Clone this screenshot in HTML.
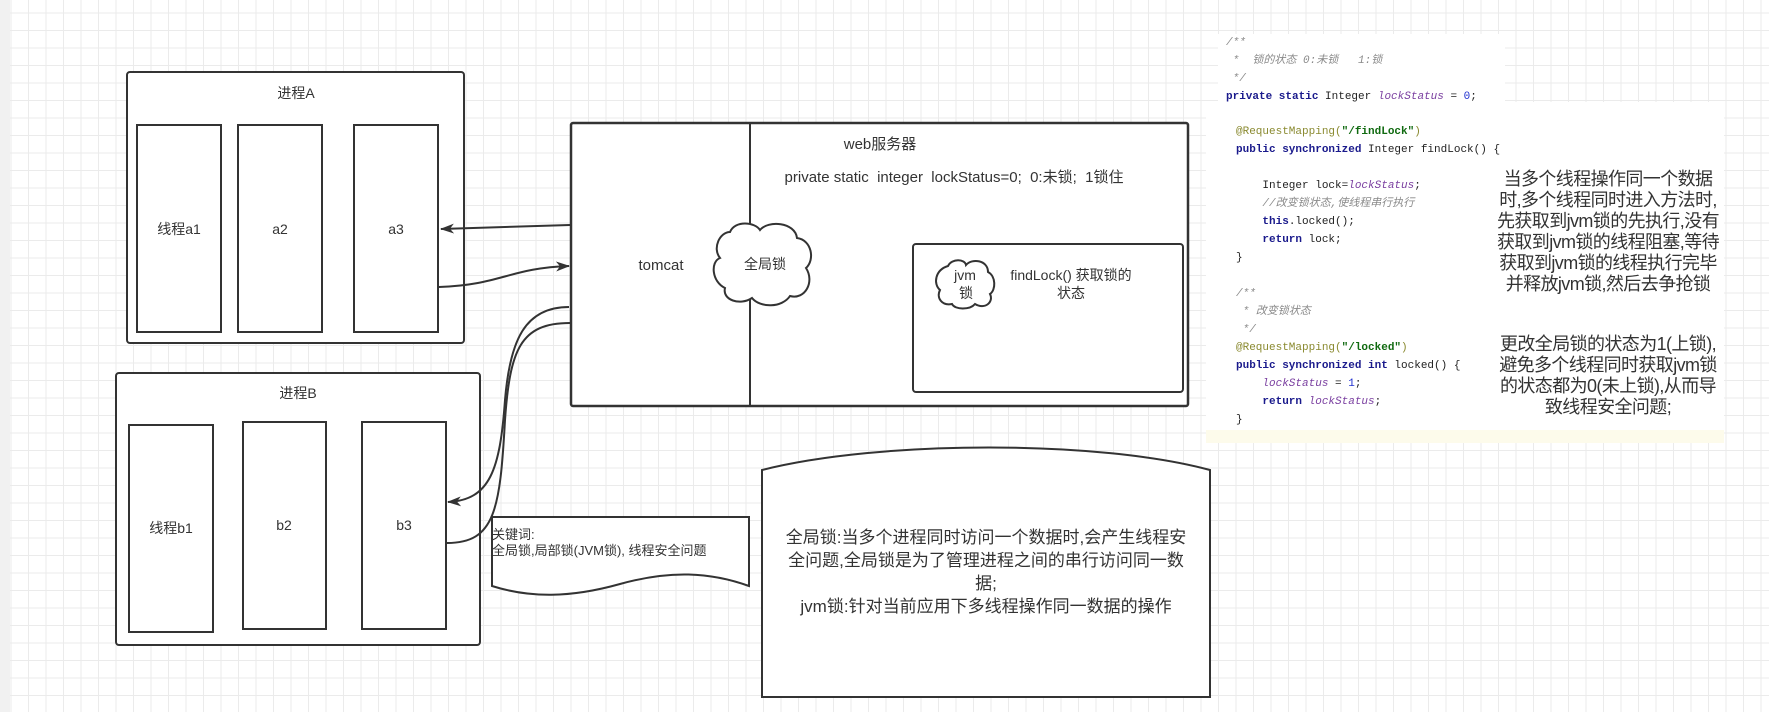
<!DOCTYPE html>
<html><head><meta charset="utf-8"><style>
html,body{margin:0;padding:0;}
body{width:1769px;height:712px;overflow:hidden;position:relative;background:#fff;font-family:"Liberation Sans","Noto Sans CJK SC",sans-serif;}
.grid{position:absolute;left:10px;top:0;width:1759px;height:712px;
background-image:linear-gradient(to right,#ebebeb 1px,transparent 1px),linear-gradient(to bottom,#ebebeb 1px,transparent 1px);
background-size:17.5px 17.5px;background-position:0.5px 12.5px;}
.strip{position:absolute;left:0;top:0;width:10px;height:712px;background:#f1f1f1;}
.code{position:absolute;font-family:"Liberation Mono","Noto Sans CJK SC",monospace;font-size:11px;color:#222;white-space:pre;line-height:18px;}
.kw{color:#1a1a8c;font-weight:bold}
.cm{color:#8a8a8a;font-style:italic}
.an{color:#8a8a30}
.st{color:#106a10;font-weight:bold}
.fld{color:#7a3fa0;font-style:italic}
.num{color:#2030d0}
.note{position:absolute;font-size:18px;color:#333;text-align:center;line-height:21px;width:240px;white-space:nowrap;letter-spacing:-0.6px;}
</style></head><body>
<div class="strip"></div><div class="grid"></div>
<div style="position:absolute;left:1218px;top:34px;width:287px;height:68px;background:#fff"></div>
<div style="position:absolute;left:1206px;top:102px;width:518px;height:341px;background:#fff"></div>
<div style="position:absolute;left:1206px;top:430px;width:518px;height:13px;background:#fdfbeb"></div>
<div class="code" style="left:1226px;top:34px"><span class="cm">/**
 *  锁的状态 0:未锁   1:锁
 */</span>
<span class="kw">private static</span> Integer <span class="fld">lockStatus</span> = <span class="num">0</span>;</div>
<div class="code" style="left:1236px;top:123px"><span class="an">@RequestMapping(</span><span class="st">"/findLock"</span><span class="an">)</span>
<span class="kw">public synchronized</span> Integer findLock() {

    Integer lock=<span class="fld">lockStatus</span>;
    <span class="cm">//改变锁状态,使线程串行执行</span>
    <span class="kw">this</span>.locked();
    <span class="kw">return</span> lock;
}

<span class="cm">/**
 * 改变锁状态
 */</span>
<span class="an">@RequestMapping(</span><span class="st">"/locked"</span><span class="an">)</span>
<span class="kw">public synchronized int</span> locked() {
    <span class="fld">lockStatus</span> = <span class="num">1</span>;
    <span class="kw">return</span> <span class="fld">lockStatus</span>;
}</div>
<div class="note" style="left:1488px;top:169px">当多个线程操作同一个数据<br>时,多个线程同时进入方法时,<br>先获取到jvm锁的先执行,没有<br>获取到jvm锁的线程阻塞,等待<br>获取到jvm锁的线程执行完毕<br>并释放jvm锁,然后去争抢锁</div>
<div class="note" style="left:1488px;top:334px">更改全局锁的状态为1(上锁),<br>避免多个线程同时获取jvm锁<br>的状态都为0(未上锁),从而导<br>致线程安全问题;</div>

<svg width="1769" height="712" style="position:absolute;left:0;top:0" font-family="Liberation Sans, Noto Sans CJK SC, sans-serif" fill="none" stroke="#333" stroke-width="2">
<defs><marker id="ah" markerWidth="14" markerHeight="10" refX="13" refY="5" orient="auto" markerUnits="userSpaceOnUse"><path d="M0,0 L14,5 L0,10 L4,5 z" fill="#333" stroke="none"/></marker></defs>
<rect x="127" y="72" width="337" height="271" rx="3" fill="#fff"/>
<rect x="137" y="125" width="84" height="207" fill="#fff"/>
<rect x="238" y="125" width="84" height="207" fill="#fff"/>
<rect x="354" y="125" width="84" height="207" fill="#fff"/>
<rect x="116" y="373" width="364" height="272" rx="3" fill="#fff"/>
<rect x="129" y="425" width="84" height="207" fill="#fff"/>
<rect x="243" y="422" width="83" height="207" fill="#fff"/>
<rect x="362" y="422" width="84" height="207" fill="#fff"/>
<rect x="571" y="123" width="617" height="283" rx="2" fill="#fff" stroke-width="2.5"/>
<line x1="750" y1="123" x2="750" y2="406"/>
<rect x="913" y="244" width="270" height="148" rx="3" fill="#fff"/>
<path d="M730,232 C735,220 755,222 760,230 C768,220 795,222 797,238 C812,240 815,260 806,268 C815,282 805,300 790,296 C782,308 760,308 752,298 C740,306 722,300 725,288 C712,282 710,262 720,258 C712,248 720,232 730,232 Z" fill="#fff"/>
<path d="M948,266 C952,258 965,259 966,265 C972,258 988,260 988,272 C996,276 996,290 990,294 C994,302 985,310 975,304 C970,310 955,310 952,304 C942,306 936,298 940,290 C933,284 935,270 948,266 Z" fill="#fff"/>
<path d="M492,517 L749,517 L749,586 C710,572 670,570 620,584 C570,598 530,598 492,586 Z" fill="#fff"/>
<path d="M762,470 C880,440 1100,440 1210,470 L1210,697 L762,697 Z" fill="#fff"/>
<path d="M570,225 L441,229" marker-end="url(#ah)"/>
<path d="M439,287 C500,285 510,268 569,266" marker-end="url(#ah)"/>
<path d="M570,323 C520,323 510,350 505,420 C500,510 495,543 447,543"/>
<path d="M569,307 C525,307 510,340 505,400 C500,470 490,500 448,502" marker-end="url(#ah)"/>
<g fill="#333" stroke="none" font-size="14" text-anchor="middle">
<text x="296" y="98">进程A</text>
<text x="179" y="234">线程a1</text>
<text x="280" y="234">a2</text>
<text x="396" y="234">a3</text>
<text x="298" y="398">进程B</text>
<text x="171" y="533">线程b1</text>
<text x="284" y="530">b2</text>
<text x="404" y="530">b3</text>
<text x="880" y="149" font-size="15">web服务器</text>
<text x="954" y="182" font-size="15" xml:space="preserve">private static  integer  lockStatus=0;  0:未锁;  1锁住</text>
<text x="661" y="270" font-size="15">tomcat</text>
<text x="765" y="269">全局锁</text>
<text x="965" y="280">jvm</text>
<text x="966" y="298">锁</text>
<text x="1071" y="280">findLock() 获取锁的</text>
<text x="1071" y="298">状态</text>
<g text-anchor="start" font-size="13"><text x="492" y="539">关键词:</text><text x="492" y="555">全局锁,局部锁(JVM锁), 线程安全问题</text></g>
<g font-size="17"><text x="986" y="543">全局锁:当多个进程同时访问一个数据时,会产生线程安</text>
<text x="986" y="566">全问题,全局锁是为了管理进程之间的串行访问同一数</text>
<text x="986" y="589">据;</text>
<text x="986" y="612">jvm锁:针对当前应用下多线程操作同一数据的操作</text></g>
</g>
</svg>
</body></html>
